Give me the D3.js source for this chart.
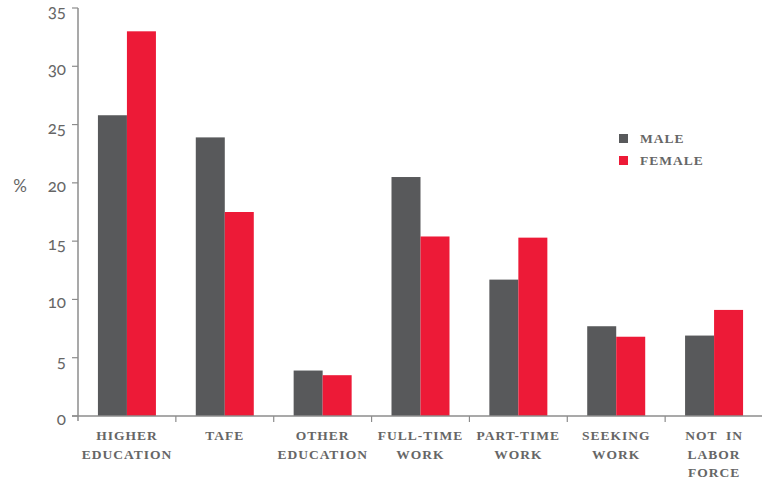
<!DOCTYPE html>
<html>
<head>
<meta charset="utf-8">
<script src="https://cdn.jsdelivr.net/npm/d3@7"></script>
<style>
  html, body { margin: 0; padding: 0; background: #fff; }
  svg { display: block; }
  .cat, .legend text { font-family: "Liberation Serif", "DejaVu Serif", serif; font-weight: bold; font-size: 13.5px; fill: #666; letter-spacing: 1px; }
  .ytick { font-family: Lato, "Noto Sans", sans-serif; font-size: 17px; fill: #666; font-variant-numeric: oldstyle-nums; font-feature-settings: "onum" 1; }
</style>
</head>
<body>
<svg id="chart" width="762" height="479"></svg>
<script>
// Destination of young people by sex (%)
const categories = [
  ["HIGHER", "EDUCATION"],
  ["TAFE"],
  ["OTHER", "EDUCATION"],
  ["FULL-TIME", "WORK"],
  ["PART-TIME", "WORK"],
  ["SEEKING", "WORK"],
  ["NOT  IN", "LABOR", "FORCE"]
];
const male   = [25.8, 23.9, 3.9, 20.5, 11.7, 7.7, 6.9];
const female = [33.0, 17.5, 3.5, 15.4, 15.3, 6.8, 9.1];
const seriesNames = ["MALE", "FEMALE"];
const yTicks = [0, 5, 10, 15, 20, 25, 30, 35];

const colors = { MALE: "#58595b", FEMALE: "#ed1a37" };
const axisColor = "#8c8c8c";

const svg = d3.select("#chart");
const plotLeft = 78, plotRight = 763, plotTop = 8, plotBottom = 416;

const x = d3.scaleBand().domain(d3.range(categories.length)).range([plotLeft, plotRight]).paddingInner(0).paddingOuter(0);
const y = d3.scaleLinear().domain([0, 35]).range([plotBottom, plotTop]);
const barW = 29;

const data = categories.map((c, i) => ({ i, values: [male[i], female[i]] }));

// bars
const groups = svg.append("g").selectAll("g").data(data).join("g");
groups.selectAll("rect")
  .data(d => d.values.map((v, k) => ({ i: d.i, k, v })))
  .join("rect")
  .attr("x", d => x(d.i) + x.bandwidth() / 2 - barW + d.k * barW)
  .attr("width", barW)
  .attr("y", d => y(d.v))
  .attr("height", d => y(0) - y(d.v))
  .attr("fill", d => colors[seriesNames[d.k]]);

// y axis
const ya = svg.append("g");
ya.append("line").attr("x1", plotLeft).attr("x2", plotLeft).attr("y1", plotTop).attr("y2", plotBottom)
  .attr("stroke", axisColor).attr("stroke-width", 1.5);
ya.selectAll(".tk").data(yTicks).join("line")
  .attr("x1", plotLeft - 6).attr("x2", plotLeft).attr("y1", d => y(d)).attr("y2", d => y(d))
  .attr("stroke", axisColor).attr("stroke-width", 1.2);
ya.selectAll("text").data(yTicks).join("text")
  .attr("class", "ytick")
  .attr("x", 66).attr("y", d => y(d) + 9)
  .attr("text-anchor", "end")
  .text(d => d);
svg.append("text").attr("class", "ytick").attr("x", 20).attr("y", 192)
  .attr("text-anchor", "middle").text("%");

// x axis
const xa = svg.append("g");
xa.append("line").attr("x1", plotLeft - 6).attr("x2", plotRight).attr("y1", plotBottom).attr("y2", plotBottom)
  .attr("stroke", axisColor).attr("stroke-width", 1.5);
xa.selectAll(".tk").data(d3.range(1, categories.length)).join("line")
  .attr("x1", d => x(d)).attr("x2", d => x(d)).attr("y1", plotBottom).attr("y2", plotBottom + 6)
  .attr("stroke", axisColor).attr("stroke-width", 1.2);
xa.append("line").attr("x1", plotLeft).attr("x2", plotLeft).attr("y1", plotBottom).attr("y2", plotBottom + 5)
  .attr("stroke", axisColor).attr("stroke-width", 1.5);

const labels = xa.selectAll("text").data(categories).join("text")
  .attr("class", "cat")
  .attr("text-anchor", "middle")
  .attr("x", (d, i) => x(i) + x.bandwidth() / 2)
  .attr("y", 440);
labels.selectAll("tspan").data(d => d).join("tspan")
  .attr("x", function () { return this.parentNode.getAttribute("x"); })
  .attr("dy", (d, j) => j === 0 ? 0 : 18.5)
  .style("white-space", "pre")
  .text(d => d);

// legend
const lg = svg.append("g").attr("class", "legend");
seriesNames.forEach((s, k) => {
  lg.append("rect").attr("x", 619).attr("y", 134 + k * 22).attr("width", 9).attr("height", 9).attr("fill", colors[s]);
  lg.append("text").attr("x", 640).attr("y", 143 + k * 22).text(s);
});
</script>
</body>
</html>
